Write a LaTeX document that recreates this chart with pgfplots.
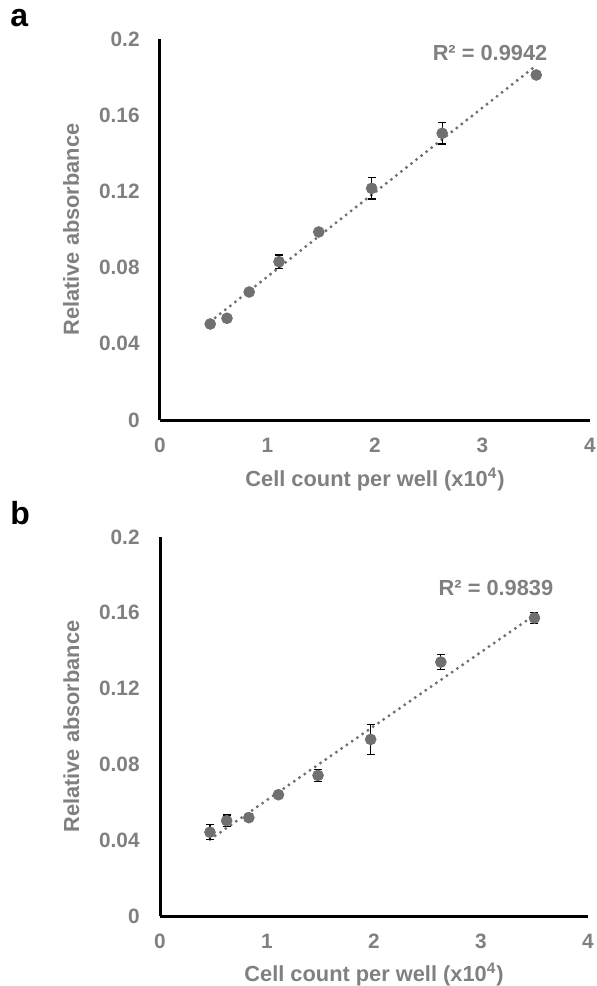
\documentclass[border=0pt]{standalone}
\usepackage{pgfplots}
\usepackage{pgfplotstable}
\pgfplotsset{compat=1.18}
\usepackage{fontspec}
\setmainfont{Liberation Sans}
\definecolor{txtgray}{RGB}{128,128,128}
\definecolor{mkgray}{RGB}{112,112,112}

\pgfplotstableread{
x y e
0.467 0.0504 0.0010
0.623 0.0534 0.0010
0.830 0.0672 0.0010
1.107 0.0831 0.0035
1.477 0.0987 0.0015
1.969 0.1216 0.0056
2.625 0.1505 0.0056
3.500 0.1811 0.0010
}\dataa

\pgfplotstableread{
x y e
0.467 0.0442 0.0040
0.623 0.0503 0.0030
0.830 0.0519 0.0020
1.107 0.0640 0.0010
1.477 0.0742 0.0031
1.969 0.0932 0.0079
2.625 0.1340 0.0040
3.500 0.1573 0.0030
}\datab

\pgfplotsset{
  panel/.style={
    scale only axis,
    xmin=0, xmax=4, ymin=0, ymax=0.2,
    axis lines=left,
    axis line style={-, black, line width=1.5pt},
    xtick={0,1,2,3,4},
    xticklabels={0,1,2,3,4},
    ytick={0,0.04,0.08,0.12,0.16,0.2},
    yticklabels={0,0.04,0.08,0.12,0.16,0.2},
    major tick length=0pt,
    /pgf/number format/assume math mode=true,
    tick label style={font=\fontsize{10.4}{12}\selectfont\bfseries, text=txtgray},
    xticklabel style={inner sep=0pt, anchor=north, yshift=-9pt},
    yticklabel style={inner sep=0pt, anchor=east, xshift=-10pt},
    label style={font=\fontsize{10.9}{13}\selectfont\bfseries, text=txtgray},
    xlabel={Cell count per well (x10\textsuperscript{4})},
    ylabel={Relative absorbance},
    clip=false,
  },
  errstyle/.style={
    only marks,
    mark=*, mark size=2.7pt,
    mark options={fill=mkgray, draw=mkgray},
    error bars/.cd, y dir=both, y explicit,
    error bar style={black, line width=0.6pt},
    error mark options={rotate=90, mark size=2pt, black, line width=0.6pt},
  },
  trend/.style={
    no marks, mkgray, line width=1.65pt, line cap=round,
    dash pattern=on 0pt off 3.2pt,
  },
}

\begin{document}
\begin{tikzpicture}
\path[use as bounding box] (0,0) rectangle (298.5pt,-493pt);

\node[anchor=base west, inner sep=0pt, font=\fontsize{16}{18}\selectfont\bfseries] at (5pt,-13pt) {a};
\node[anchor=base west, inner sep=0pt, font=\fontsize{16}{18}\selectfont\bfseries] at (5pt,-262pt) {b};

\begin{axis}[panel,
  width=215pt, height=190.5pt,
  at={(80pt,-210pt)}, anchor=south west,
  xlabel style={at={(axis description cs:0.5,-0.155)}, anchor=center},
  ylabel style={at={(axis description cs:-0.207,0.5)}, anchor=center, rotate=0},
]
\addplot[trend] table[x=x, y={create col/linear regression={y=y}}] {\dataa};
\addplot[errstyle] table[x=x, y=y, y error=e] {\dataa};
\node[font=\fontsize{10.9}{13}\selectfont\bfseries, text=txtgray] at (axis cs:3.07,0.1927) {R² = 0.9942};
\end{axis}

\begin{axis}[panel,
  width=214pt, height=189.5pt,
  at={(80pt,-458pt)}, anchor=south west,
  xlabel style={at={(axis description cs:0.5,-0.155)}, anchor=center},
  ylabel style={at={(axis description cs:-0.207,0.5)}, anchor=center, rotate=0},
]
\addplot[trend] table[x=x, y={create col/linear regression={y=y}}] {\datab};
\addplot[errstyle] table[x=x, y=y, y error=e] {\datab};
\node[font=\fontsize{10.9}{13}\selectfont\bfseries, text=txtgray] at (axis cs:3.14,0.173) {R² = 0.9839};
\end{axis}
\end{tikzpicture}
\end{document}
